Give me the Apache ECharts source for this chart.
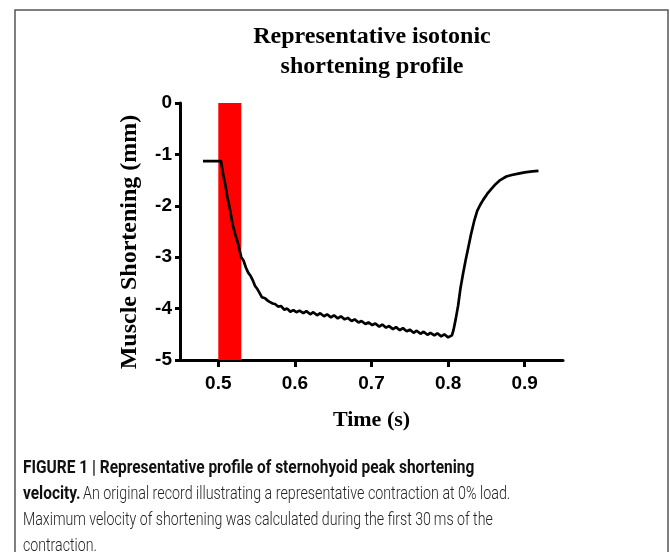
<!DOCTYPE html>
<html>
<head>
<meta charset="utf-8">
<script src="https://cdn.jsdelivr.net/npm/echarts@6/dist/echarts.min.js"></script>
<style>
  html, body { margin: 0; padding: 0; background: #fff; }
  #chart { width: 670px; height: 552px; }
</style>
</head>
<body>
<div id="chart"></div>
<script>
// muscle shortening trace, [time (s), shortening (mm)]
var trace = [
  [0.480, -1.13], [0.5035, -1.13], [0.5065, -1.40], [0.5095, -1.62], [0.512, -1.85],
  [0.515, -2.05], [0.5185, -2.35], [0.522, -2.55], [0.5255, -2.72], [0.528, -2.88],
  [0.530, -3.00], [0.533, -3.07], [0.536, -3.20], [0.539, -3.30], [0.542, -3.36],
  [0.545, -3.45], [0.548, -3.56], [0.551, -3.62], [0.554, -3.70], [0.557, -3.78],
  [0.561, -3.80], [0.564, -3.84], [0.567, -3.87], [0.571, -3.90], [0.574, -3.91],
  [0.578, -3.96], [0.582, -3.95], [0.586, -4.02], [0.590, -4.00], [0.594, -4.06],
  [0.598, -4.03], [0.602, -4.07], [0.606, -4.04], [0.611, -4.09], [0.615, -4.05],
  [0.620, -4.11], [0.624, -4.07], [0.629, -4.13], [0.633, -4.09], [0.638, -4.15],
  [0.642, -4.11], [0.647, -4.17], [0.651, -4.13], [0.656, -4.19], [0.660, -4.15],
  [0.665, -4.21], [0.669, -4.18], [0.674, -4.24], [0.678, -4.21], [0.683, -4.27],
  [0.687, -4.24], [0.692, -4.30], [0.696, -4.27], [0.701, -4.32], [0.705, -4.29],
  [0.710, -4.35], [0.714, -4.31], [0.719, -4.37], [0.723, -4.34], [0.728, -4.40],
  [0.732, -4.36], [0.737, -4.42], [0.741, -4.38], [0.746, -4.44], [0.750, -4.41],
  [0.755, -4.47], [0.759, -4.43], [0.764, -4.49], [0.768, -4.45], [0.773, -4.51],
  [0.777, -4.47], [0.782, -4.52], [0.786, -4.48], [0.791, -4.54], [0.795, -4.50],
  [0.800, -4.56], [0.8025, -4.57], [0.805, -4.52], [0.807, -4.42], [0.810, -4.20],
  [0.813, -3.95], [0.816, -3.62], [0.8195, -3.32], [0.823, -3.05], [0.8265, -2.80],
  [0.830, -2.55], [0.834, -2.30], [0.838, -2.10], [0.842, -1.98], [0.846, -1.88],
  [0.851, -1.77], [0.856, -1.68], [0.862, -1.58], [0.868, -1.50], [0.876, -1.43],
  [0.883, -1.40], [0.890, -1.38], [0.900, -1.35], [0.910, -1.33], [0.918, -1.32]
]
// first 30 ms of the contraction
var redBand = [0.5, 0.53]
var xTicks = [0.5, 0.6, 0.7, 0.8, 0.9]

var chart = echarts.init(document.getElementById('chart'))

var boldSans = { fontFamily: 'Liberation Sans', fontWeight: 'bold', fontSize: 19, color: '#000' }
var boldSerif = { fontFamily: 'Liberation Serif', fontWeight: 'bold', color: '#000' }

// caption pieces, squeezed a bit to match the condensed journal face
var capBold = 'bold 18px Roboto'
var capLight = '300 18px Roboto'

chart.setOption({
  animation: false,
  grid: { left: 180, top: 103, width: 383, height: 257 },
  xAxis: {
    type: 'value',
    min: 0.45,
    max: 0.95,
    name: 'Time (s)',
    nameLocation: 'middle',
    nameGap: 49,
    nameTextStyle: Object.assign({ fontSize: 22 }, boldSerif),
    axisLine: { onZero: false, lineStyle: { color: '#000', width: 3 } },
    axisTick: { customValues: xTicks, length: 7, lineStyle: { width: 3, color: '#000' } },
    axisLabel: Object.assign({ customValues: xTicks, margin: 14 }, boldSans),
    splitLine: { show: false }
  },
  yAxis: {
    type: 'value',
    min: -5,
    max: 0,
    interval: 1,
    axisLine: { onZero: false, lineStyle: { color: '#000', width: 3 } },
    axisTick: { length: 5, lineStyle: { width: 3, color: '#000' } },
    axisLabel: Object.assign({ margin: 8 }, boldSans),
    splitLine: { show: false }
  },
  series: [{
    type: 'line',
    data: trace,
    showSymbol: false,
    lineStyle: { color: '#000', width: 2.7 },
    z: 3,
    markArea: {
      silent: true,
      itemStyle: { color: '#ff0000' },
      data: [[{ xAxis: redBand[0], yAxis: 0 }, { xAxis: redBand[1], yAxis: -5 }]]
    }
  }],
  graphic: [
    {
      type: 'rect',
      shape: { x: 15, y: 10, width: 653, height: 600 },
      style: { fill: 'none', stroke: '#555', lineWidth: 1.5 }
    },
    {
      type: 'text', x: 372, y: 22,
      style: {
        text: 'Representative isotonic\nshortening profile',
        align: 'center',
        font: 'bold 24px "Liberation Serif"',
        lineHeight: 30,
        fill: '#000'
      }
    },
    {
      type: 'text', x: 130, y: 242, rotation: Math.PI / 2,
      style: {
        text: 'Muscle Shortening (mm)',
        align: 'center',
        verticalAlign: 'middle',
        font: 'bold 24px "Liberation Serif"',
        fill: '#000'
      }
    },
    {
      type: 'text', x: 23, y: 468, scaleX: 0.86,
      style: { text: 'FIGURE 1 | Representative profile of sternohyoid peak shortening', font: capBold, verticalAlign: 'middle', fill: '#111' }
    },
    {
      type: 'text', x: 23, y: 494, scaleX: 0.86,
      style: { text: 'velocity.', font: capBold, verticalAlign: 'middle', fill: '#111' }
    },
    {
      type: 'text', x: 83, y: 494, scaleX: 0.793,
      style: { text: 'An original record illustrating a representative contraction at 0% load.', font: capLight, verticalAlign: 'middle', fill: '#222' }
    },
    {
      type: 'text', x: 23, y: 520, scaleX: 0.787,
      style: { text: 'Maximum velocity of shortening was calculated during the first 30\u2009ms of the', font: capLight, verticalAlign: 'middle', fill: '#222' }
    },
    {
      type: 'text', x: 23, y: 546, scaleX: 0.787,
      style: { text: 'contraction.', font: capLight, verticalAlign: 'middle', fill: '#222' }
    }
  ]
})
</script>
</body>
</html>
